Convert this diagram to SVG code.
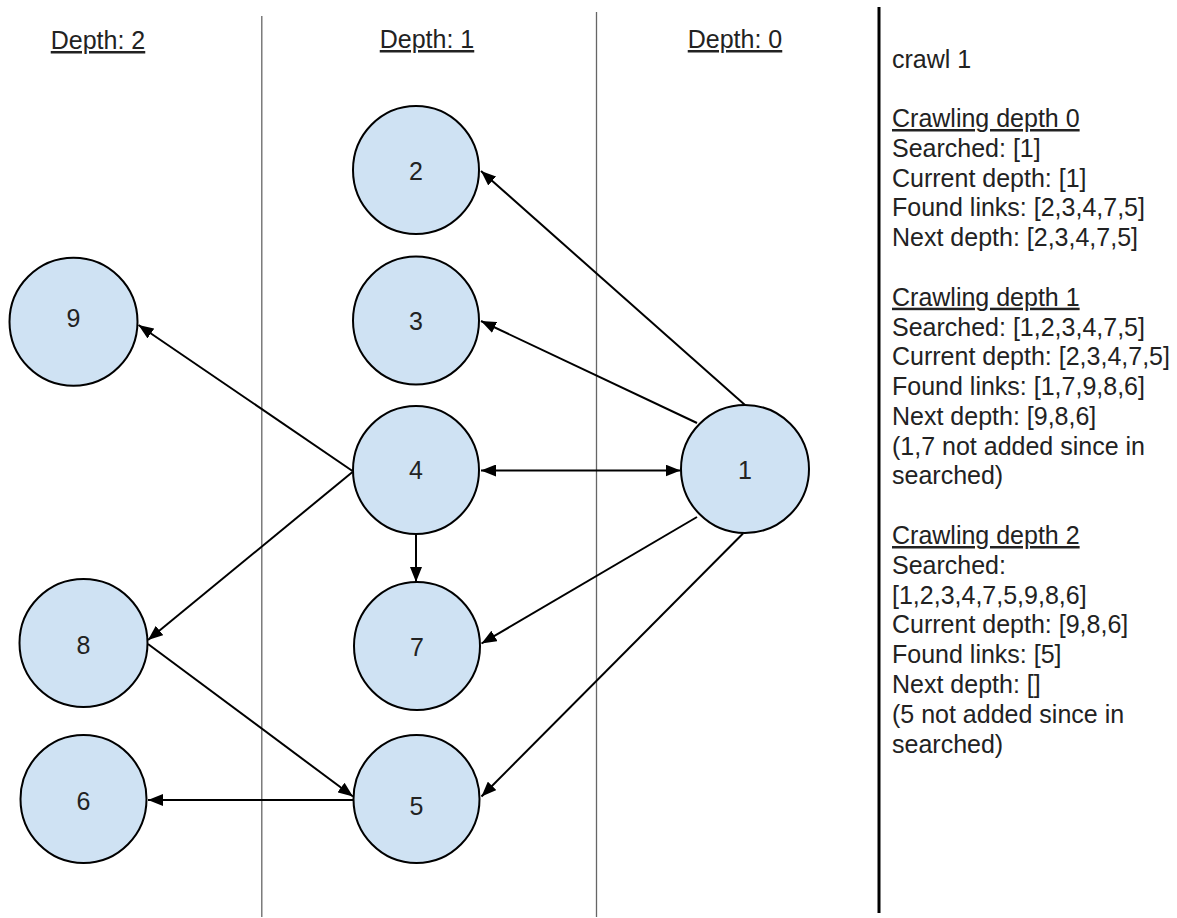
<svg xmlns="http://www.w3.org/2000/svg" width="1177" height="918" viewBox="0 0 1177 918">
<style>
text{font-family:"Liberation Sans",Arial,sans-serif;font-size:25px;fill:#222}
.hdr{text-anchor:middle;text-decoration:underline}
.u{text-decoration:underline}
.node ellipse{fill:#cfe2f3;stroke:#000;stroke-width:2}
.node text{text-anchor:middle}
.sep{stroke:#666;stroke-width:1.3}
.edge{stroke:#000;stroke-width:2;fill:none;marker-end:url(#ah)}
</style>
<defs>
<marker id="ah" markerUnits="userSpaceOnUse" markerWidth="16" markerHeight="12" refX="15" refY="6" orient="auto-start-reverse">
<path d="M0,0 L15,6 L0,12 Z" fill="#000"/>
</marker>
</defs>
<g id="columns">
<line class="sep" x1="261.8" y1="16" x2="261.8" y2="917"/>
<line class="sep" x1="596.5" y1="12" x2="596.5" y2="917"/>
<line x1="879" y1="7" x2="879" y2="913" stroke="#000" stroke-width="3"/>
<text class="hdr" x="98" y="49">Depth: 2</text>
<text class="hdr" x="427" y="48">Depth: 1</text>
<text class="hdr" x="735" y="48">Depth: 0</text>
</g>
<g id="connectors">
<line class="edge" x1="745" y1="405" x2="481" y2="171"/>
<line class="edge" x1="697" y1="423" x2="481" y2="321"/>
<line class="edge" x1="481" y1="470.5" x2="680.5" y2="470.5" stroke-width="2.6" style="marker-start:url(#ah)"/>
<line class="edge" x1="697" y1="517" x2="481.5" y2="643.5"/>
<line class="edge" x1="743" y1="533.5" x2="481.5" y2="796.5"/>
<line class="edge" x1="352.5" y1="471" x2="138.5" y2="325"/>
<line class="edge" x1="352.5" y1="472" x2="148" y2="640"/>
<line class="edge" x1="416" y1="534" x2="416" y2="582"/>
<line class="edge" x1="148" y1="644" x2="353" y2="796.5"/>
<line class="edge" x1="353" y1="800" x2="148" y2="800" stroke-width="2.6"/>
</g>
<g id="node-1" class="node"><ellipse cx="745" cy="469" rx="64" ry="64"/><text x="745" y="479">1</text></g>
<g id="node-2" class="node"><ellipse cx="416" cy="170" rx="63" ry="64"/><text x="416" y="180">2</text></g>
<g id="node-3" class="node"><ellipse cx="416" cy="320.5" rx="63" ry="64"/><text x="416" y="330">3</text></g>
<g id="node-4" class="node"><ellipse cx="416" cy="470" rx="63" ry="64"/><text x="416" y="479">4</text></g>
<g id="node-7" class="node"><ellipse cx="417" cy="646" rx="63" ry="64"/><text x="417" y="656">7</text></g>
<g id="node-5" class="node"><ellipse cx="416.5" cy="799" rx="63" ry="64"/><text x="416.5" y="815">5</text></g>
<g id="node-9" class="node"><ellipse cx="73.5" cy="321.7" rx="64" ry="64"/><text x="73.5" y="327">9</text></g>
<g id="node-8" class="node"><ellipse cx="83.5" cy="643" rx="64" ry="64"/><text x="83.5" y="654">8</text></g>
<g id="node-6" class="node"><ellipse cx="83.5" cy="799" rx="63" ry="64"/><text x="83.5" y="810">6</text></g>
<g id="log">
<text x="892" y="67.5">crawl 1</text>
<text x="892" y="127" class="u">Crawling depth 0</text>
<text x="892" y="156.8">Searched: [1]</text>
<text x="892" y="186.6">Current depth: [1]</text>
<text x="892" y="216.4">Found links: [2,3,4,7,5]</text>
<text x="892" y="246.2">Next depth: [2,3,4,7,5]</text>
<text x="892" y="305.7" class="u">Crawling depth 1</text>
<text x="892" y="335.5">Searched: [1,2,3,4,7,5]</text>
<text x="892" y="365.3">Current depth: [2,3,4,7,5]</text>
<text x="892" y="395.1">Found links: [1,7,9,8,6]</text>
<text x="892" y="424.9">Next depth: [9,8,6]</text>
<text x="892" y="454.7">(1,7 not added since in</text>
<text x="892" y="484.4">searched)</text>
<text x="892" y="544" class="u">Crawling depth 2</text>
<text x="892" y="573.8">Searched:</text>
<text x="892" y="603.6">[1,2,3,4,7,5,9,8,6]</text>
<text x="892" y="633.4">Current depth: [9,8,6]</text>
<text x="892" y="663.2">Found links: [5]</text>
<text x="892" y="693">Next depth: []</text>
<text x="892" y="722.8">(5 not added since in</text>
<text x="892" y="752.6">searched)</text>
</g>
</svg>
